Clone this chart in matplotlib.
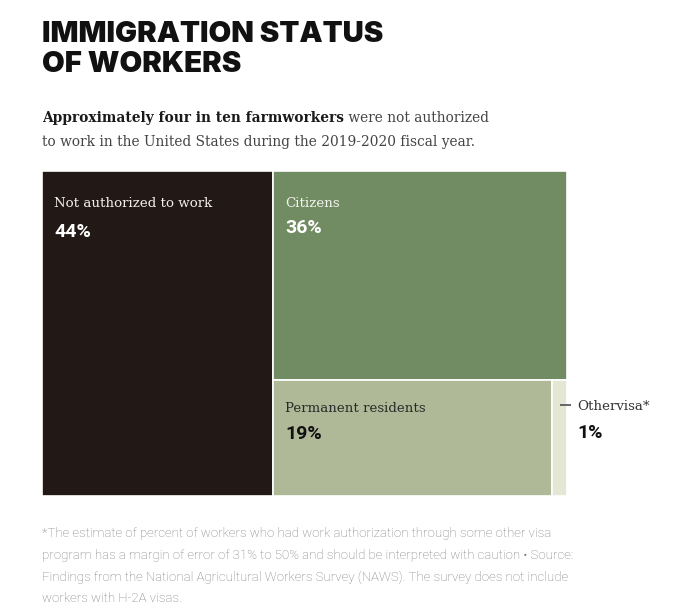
import matplotlib
matplotlib.use("Agg")
import matplotlib.pyplot as plt
from matplotlib.patches import Rectangle

# data
labels = ["Not authorized to work", "Citizens", "Permanent residents", "Othervisa*"]
values = [44, 36, 19, 1]
colors = ["#221815", "#718c62", "#b0b997", "#e4e7d3"]

title_lines = ["IMMIGRATION STATUS", "OF WORKERS"]
sub_bold = "Approximately four in ten farmworkers"
sub_rest = " were not authorized"
sub_line2 = "to work in the United States during the 2019-2020 fiscal year."
footnote = ["*The estimate of percent of workers who had work authorization through some other visa",
            "program has a margin of error of 31% to 50% and should be interpreted with caution \u2022 Source:",
            "Findings from the National Agricultural Workers Survey (NAWS). The survey does not include",
            "workers with H-2A visas."]

W, H = 673, 615
fig = plt.figure(figsize=(W / 100, H / 100), dpi=100)
fig.patch.set_facecolor("white")


def fy(py):
    # pixel row from top -> figure fraction
    return 1 - py / H


# treemap box in pixels
x0, y0, x1, y1 = 42, 171, 567, 496
bw, bh = x1 - x0, y1 - y0
ax = fig.add_axes([x0 / W, 1 - y1 / H, bw / W, bh / H])
ax.set_xlim(0, 1)
ax.set_ylim(0, 1)
ax.axis("off")

total = sum(values)
# slice layout: first column, then top block, then bottom row
w0 = values[0] / total
rest = total - values[0]
h1 = values[1] / rest
bottom = values[2] + values[3]
w2 = values[2] / bottom
rects = [
    (0, 0, w0, 1),
    (w0, 1 - h1, 1 - w0, h1),
    (w0, 0, (1 - w0) * w2, 1 - h1),
    (w0 + (1 - w0) * w2, 0, (1 - w0) * (1 - w2), 1 - h1),
]
for (rx, ry, rw, rh), c in zip(rects, colors):
    ax.add_patch(Rectangle((rx, ry), rw, rh, facecolor=c, edgecolor="white", linewidth=1.2))

serif = "DejaVu Serif"
lab_col = ["#f2f0ee", "#f2f4ee", "#2a2a2a"]
pct_col = ["white", "white", "#111111"]
offs = [(36, 66), (36, 62), (32, 59)]
for i in range(3):
    rx, ry, rw, rh = rects[i]
    tx = rx + 12 / bw
    top = ry + rh
    ax.text(tx, top - offs[i][0] / bh, labels[i], color=lab_col[i], fontsize=9.6,
            family=serif, va="baseline", ha="left")
    ax.text(tx, top - offs[i][1] / bh, f"{values[i]}%", color=pct_col[i],
            fontsize=14, fontweight="bold", family="Roboto", va="baseline", ha="left")

# label outside for the small one, with a short leader
rx, ry, rw, rh = rects[3]
top = ry + rh
ax.plot([rx + rw - 7 / bw, rx + rw + 4 / bw], [top - 25 / bh, top - 25 / bh],
        color="#666666", lw=1.4, clip_on=False, solid_capstyle="butt")
ax.text(rx + rw + 10 / bw, top - 30 / bh, labels[3], color="#333333", fontsize=9.6,
        family=serif, va="baseline", ha="left")
ax.text(rx + rw + 10 / bw, top - 58 / bh, f"{values[3]}%", color="#111111",
        fontsize=14, fontweight="bold", family="Roboto", va="baseline", ha="left")

# header text, size fitted so the first line spans the same width as the original
tsize = 20
probe = fig.text(0, 0, title_lines[0], fontsize=tsize, fontweight="black", family="Inter")
fig.canvas.draw()
tsize = tsize * 341 / probe.get_window_extent().width
probe.remove()
for line, base in zip(title_lines, [42, 72]):
    fig.text(42 / W, fy(base), line, fontsize=tsize, fontweight="black", family="Inter",
             va="baseline", ha="left", color="#111111")

t1 = fig.text(42 / W, fy(122), sub_bold, fontsize=9.95, fontweight="bold",
              family=serif, va="baseline", ha="left", color="#1a1a1a")
fig.canvas.draw()
bb = t1.get_window_extent()
fig.text(bb.x1 / W, fy(122), sub_rest, fontsize=9.95, family=serif,
         va="baseline", ha="left", color="#444444")
fig.text(42 / W, fy(146), sub_line2, fontsize=9.95, family=serif,
         va="baseline", ha="left", color="#444444")

for line, base in zip(footnote, [537, 559, 581, 602]):
    fig.text(42 / W, fy(base), line, fontsize=9.5, family="Roboto", fontweight="light",
             va="baseline", ha="left", color="#7d7d7d")

fig.savefig("out.png", dpi=100, facecolor="white")
